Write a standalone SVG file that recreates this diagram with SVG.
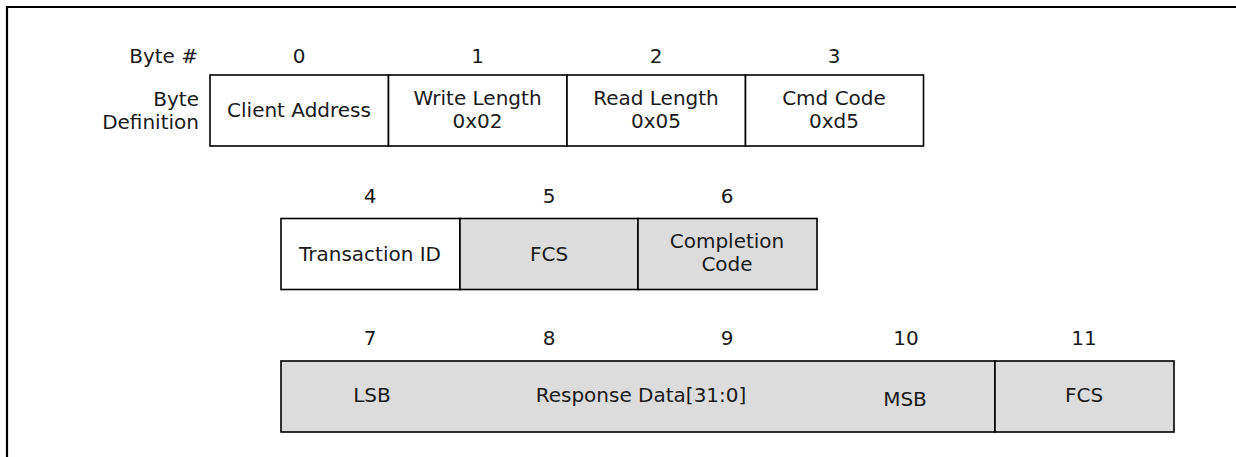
<svg xmlns="http://www.w3.org/2000/svg" width="1236" height="457" viewBox="0 0 1236 457">
<style>
text{font-family:"DejaVu Sans",Verdana,sans-serif;font-size:20px;fill:#1a1a1a}
.c{text-anchor:middle}
.r{text-anchor:end}
.box{stroke:#000;stroke-width:1.6}
.w{fill:#fff}
.g{fill:#dcdcdc}
</style>
<rect width="1236" height="457" fill="#fff"/>
<path d="M7 457V7H1236" fill="none" stroke="#000" stroke-width="2.2"/>
<g id="labels">
<text class="r" x="198" y="63">Byte #</text>
<text class="r" x="199" y="106">Byte</text>
<text class="r" x="199" y="129">Definition</text>
<text class="c" x="299" y="63">0</text>
<text class="c" x="477.5" y="63">1</text>
<text class="c" x="656" y="63">2</text>
<text class="c" x="834" y="63">3</text>
<text class="c" x="370" y="203">4</text>
<text class="c" x="549" y="203">5</text>
<text class="c" x="727" y="203">6</text>
<text class="c" x="370" y="345">7</text>
<text class="c" x="549" y="345">8</text>
<text class="c" x="727" y="345">9</text>
<text class="c" x="906" y="345">10</text>
<text class="c" x="1084" y="345">11</text>
</g>
<g id="b0"><rect class="box w" x="210" y="75" width="178.5" height="71"/><text class="c" x="299" y="117">Client Address</text></g>
<g id="b1"><rect class="box w" x="388.5" y="75" width="178.5" height="71"/><text class="c" x="477.5" y="105">Write Length</text><text class="c" x="477.5" y="128">0x02</text></g>
<g id="b2"><rect class="box w" x="567" y="75" width="178.5" height="71"/><text class="c" x="656" y="105">Read Length</text><text class="c" x="656" y="128">0x05</text></g>
<g id="b3"><rect class="box w" x="745.5" y="75" width="178" height="71"/><text class="c" x="834" y="105">Cmd Code</text><text class="c" x="834" y="128">0xd5</text></g>
<g id="b4"><rect class="box w" x="281" y="218.5" width="179" height="71"/><text class="c" x="370" y="261">Transaction ID</text></g>
<g id="b5"><rect class="box g" x="460" y="218.5" width="178" height="71"/><text class="c" x="549" y="261">FCS</text></g>
<g id="b6"><rect class="box g" x="638" y="218.5" width="179" height="71"/><text class="c" x="727" y="248">Completion</text><text class="c" x="727" y="271">Code</text></g>
<g id="b7"><rect class="box g" x="281" y="361" width="714" height="71"/><text class="c" x="372" y="402">LSB</text><text class="c" x="641" y="402">Response Data[31:0]</text><text class="c" x="905" y="406">MSB</text></g>
<g id="b11"><rect class="box g" x="995" y="361" width="179" height="71"/><text class="c" x="1084" y="402">FCS</text></g>
</svg>
